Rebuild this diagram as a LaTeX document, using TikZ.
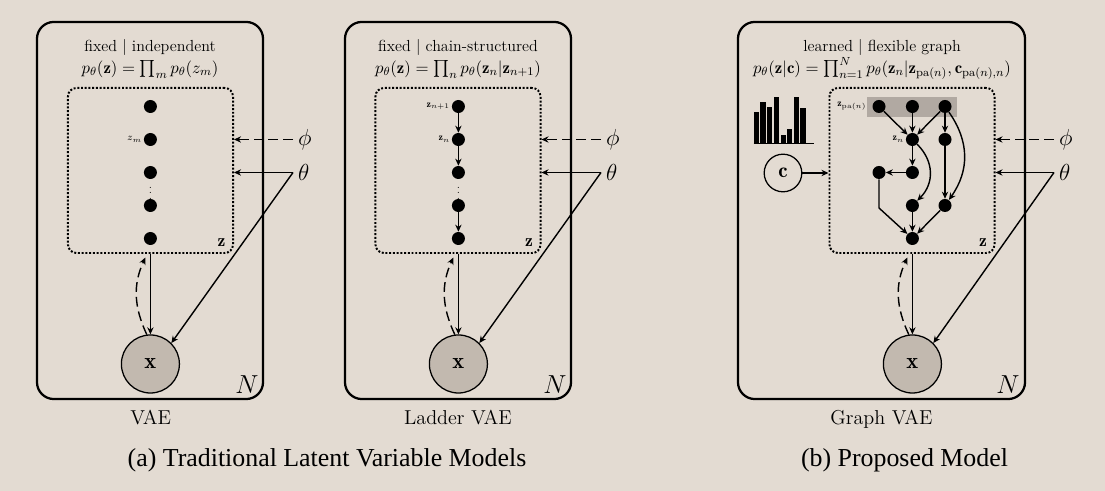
\documentclass[tikz,border=0pt]{standalone}
\usepackage{fix-cm}
\usepackage{amsmath, amssymb}
\usepackage{xcolor}
\usepackage{fontspec}
\usepackage{tikz}
\usetikzlibrary{positioning, arrows.meta, calc}
\newfontfamily\capfont{Liberation Serif}
\definecolor{paper}{HTML}{E3DBD2}
\definecolor{observed}{HTML}{C2B9AF}
\definecolor{parentband}{HTML}{B1A9A2}

\begin{document}
\begin{tikzpicture}[x=0.025cm, y=0.025cm,
        plate/.style={draw, line width=1.6pt, rounded corners=12pt, minimum height=9.425cm, inner sep=0pt},
        zbox/.style={draw, line width=1.4pt, dash pattern=on 1.4pt off 1.25pt, rounded corners=6pt, minimum width=4.125cm, minimum height=4.125cm, inner sep=0pt},
        latent/.style={circle, fill=black, minimum size=0.325cm, inner sep=0pt},
        observedvar/.style={circle, draw, line width=0.9pt, fill=observed, minimum size=1.45cm, inner sep=0pt, font=\fontsize{16}{16}\selectfont},
        contextvar/.style={circle, draw, line width=0.9pt, minimum size=0.94cm, inner sep=0pt, font=\fontsize{15}{15}\selectfont},
        edge/.style={line width=1pt, -{Stealth[length=5pt, width=4.5pt]}},
        infer/.style={edge, dash pattern=on 7pt off 3.5pt},
        param/.style={anchor=west, inner sep=3.5pt, font=\fontsize{16.5}{17}\selectfont},
        headline/.style={anchor=base, inner sep=0pt, font=\fontsize{11.4}{13}\selectfont},
        formula/.style={anchor=base, inner sep=0pt, font=\fontsize{11.95}{13}\selectfont},
        smalllabel/.style={anchor=east, inner sep=0.5pt, font=\fontsize{7}{8}\selectfont},
        zname/.style={font=\fontsize{12.5}{13}\selectfont},
        platecount/.style={font=\fontsize{18.5}{19}\selectfont},
        modelname/.style={anchor=base, font=\fontsize{14.3}{16}\selectfont},
        caption/.style={anchor=base, font=\capfont\fontsize{18.4}{20}\selectfont}]
        % Background
        \fill[paper] (0,0) rectangle (1105,491);
        \useasboundingbox (0,0) rectangle (1105,491);

        % The plates
        \node[plate, minimum width=5.65cm] (plate1) at (150,280.5) {};
        \node[plate, minimum width=5.65cm] (plate2) at (458,280.5) {};
        \node[plate, minimum width=7.175cm] (plate3) at (881.5,280.5) {};
        \node[zbox] (zbox1) at (150.5,320.5) {};
        \node[zbox] (zbox2) at (458,320.5) {};
        \node[zbox] (zbox3) at (912,320.5) {};

        % Parent band of the graph model
        \fill[parentband] (867,374) rectangle (957,394);

        % Headlines
        \node[headline] at (150,439) {fixed $\vert$ independent};
        \node[formula] at (150,417.7) {$p_\theta(\mathbf{z})=\prod_{m} p_\theta(z_m)$};
        \node[headline] at (458,439) {fixed $\vert$ chain-structured};
        \node[formula] at (458,417.7) {$p_\theta(\mathbf{z})=\prod_{n} p_\theta(\mathbf{z}_n\vert\mathbf{z}_{n+1})$};
        \node[headline] at (882,439) {learned $\vert$ flexible graph};
        \node[formula] at (882,417.7) {$p_\theta(\mathbf{z}\vert\mathbf{c})=\prod_{n=1}^{N} p_\theta(\mathbf{z}_n\vert\mathbf{z}_{\mathrm{pa}(n)},\mathbf{c}_{\mathrm{pa}(n),n})$};

        % VAE
        \node[latent] (v1) at (150.4,384.5) {};
        \node[latent] (v2) at (150.4,351.5) {};
        \node[latent] (v3) at (150.4,318.5) {};
        \node[latent] (v4) at (150.4,285.5) {};
        \node[latent] (v5) at (150.4,252.5) {};
        \node[smalllabel, left=0.5pt of v2] {$z_m$};
        \node[font=\scriptsize, inner sep=0pt] at (150.4,302) {$\vdots$};

        % Ladder VAE
        \node[latent] (l1) at (458.4,384.5) {};
        \node[latent] (l2) at (458.4,351.5) {};
        \node[latent] (l3) at (458.4,318.5) {};
        \node[latent] (l4) at (458.4,285.5) {};
        \node[latent] (l5) at (458.4,252.5) {};
        \node[smalllabel, left=0.5pt of l1] {$\mathbf{z}_{n+1}$};
        \node[smalllabel, left=0.5pt of l2] {$\mathbf{z}_{n}$};
        \node[font=\scriptsize, inner sep=0pt] at (458.4,302) {$\vdots$};
        \draw[edge] (l1) -- (l2);
        \draw[edge] (l2) -- (l3);
        \draw[edge] (l4) -- (l5);

        % Graph VAE
        \node[latent] (g1) at (879,384.5) {};
        \node[latent] (g2) at (912.4,384.5) {};
        \node[latent] (g3) at (945,384.5) {};
        \node[latent] (g4) at (912.4,351.5) {};
        \node[latent] (g5) at (945,351.5) {};
        \node[latent] (g6) at (879,318.5) {};
        \node[latent] (g7) at (912.4,318.5) {};
        \node[latent] (g8) at (912.4,285.5) {};
        \node[latent] (g9) at (945,285.5) {};
        \node[latent] (g10) at (912.4,252.5) {};
        \coordinate (gturn) at (879,283);
        \node[smalllabel, left=3.5pt of g1] {$\mathbf{z}_{\mathrm{pa}(n)}$};
        \node[smalllabel, left=0.5pt of g4] {$\mathbf{z}_{n}$};
        \draw[edge] (g1) -- (g4);
        \draw[edge] (g2) -- (g4);
        \draw[edge] (g3) -- (g4);
        \draw[edge] (g3) -- (g5);
        \draw[edge] (g3) to[out=-55, in=55, looseness=1.05] (g9);
        \draw[edge] (g4) to (g7);
        \draw[edge] (g4) to[out=-45, in=45, looseness=1.1] (g8);
        \draw[edge] (g7) -- (g6);
        \draw[edge] (g5) -- (g9);
        \draw[edge] (g8) -- (g10);
        \draw[edge] (g9) -- (g10);
        \draw[edge] (g6) -- (gturn) -- (g10);

        % Histogram and context variable
        \fill (753.5,347.7) rectangle ++(5.3,31.7);
        \fill (760.3,347.7) rectangle ++(5.3,41.7);
        \fill (767,347.7) rectangle ++(5.3,36.7);
        \fill (774,347.7) rectangle ++(5.3,46.7);
        \fill (780.7,347.7) rectangle ++(5.3,8.4);
        \fill (787,347.7) rectangle ++(5.3,14);
        \fill (793.7,347.7) rectangle ++(5.3,46.7);
        \fill (800.3,347.7) rectangle ++(5.3,35);
        \draw[line width=0.8pt] (753.5,347.7) -- (814,347.7);
        \node[contextvar] (ctx) at (783,318) {$\mathbf{c}$};
        \draw[edge] (ctx) -- (zbox3.west |- ctx);

        % Observed variables
        \node[observedvar] (x1) at (150.4,127) {$\mathbf{x}$};
        \node[observedvar] (x2) at (458.4,127) {$\mathbf{x}$};
        \node[observedvar] (x3) at (912.4,127) {$\mathbf{x}$};

        % Parameters
        \node[param] (phi1) at (293,351.5) {$\phi$};
        \node[param] (theta1) at (293,318.5) {$\theta$};
        \node[param] (phi2) at (601,351.5) {$\phi$};
        \node[param] (theta2) at (601,318.5) {$\theta$};
        \node[param] (phi3) at (1054,351.5) {$\phi$};
        \node[param] (theta3) at (1054,318.5) {$\theta$};
        \draw[infer] (phi1.west) -- (zbox1.east |- phi1);
        \draw[infer] (phi2.west) -- (zbox2.east |- phi2);
        \draw[infer] (phi3.west) -- (zbox3.east |- phi3);
        \draw[edge] (theta1.west) -- (zbox1.east |- theta1);
        \draw[edge] (theta2.west) -- (zbox2.east |- theta2);
        \draw[edge] (theta3.west) -- (zbox3.east |- theta3);
        \draw[edge] (theta1.west) -- (x1.45);
        \draw[edge] (theta2.west) -- (x2.45);
        \draw[edge] (theta3.west) -- (x3.45);

        % Generative and inference links
        \draw[edge] (zbox1.south -| x1) -- (x1);
        \draw[edge] (zbox2.south -| x2) -- (x2);
        \draw[edge] (zbox3.south -| x3) -- (x3);
        \draw[infer] (x1.97) to[out=115, in=-115] ($(zbox1.south -| x1)+(-5,-3.5)$);
        \draw[infer] (x2.97) to[out=115, in=-115] ($(zbox2.south -| x2)+(-5,-3.5)$);
        \draw[infer] (x3.97) to[out=115, in=-115] ($(zbox3.south -| x3)+(-5,-3.5)$);

        % Plate labels
        \node[zname] at (221.5,248.7) {$\mathbf{z}$};
        \node[zname] at (529,248.7) {$\mathbf{z}$};
        \node[zname] at (983,248.7) {$\mathbf{z}$};
        \node[platecount] at (247,106) {$N$};
        \node[platecount] at (555,106) {$N$};
        \node[platecount] at (1008,106) {$N$};

        % Captions
        \node[modelname] at (150.7,66) {VAE};
        \node[modelname] at (458,66) {Ladder VAE};
        \node[modelname] at (881.5,66.5) {Graph VAE};
        \node[caption] at (327,24) {(a) Traditional Latent Variable Models};
        \node[caption] at (904.5,24) {(b) Proposed Model};
\end{tikzpicture}
\end{document}
